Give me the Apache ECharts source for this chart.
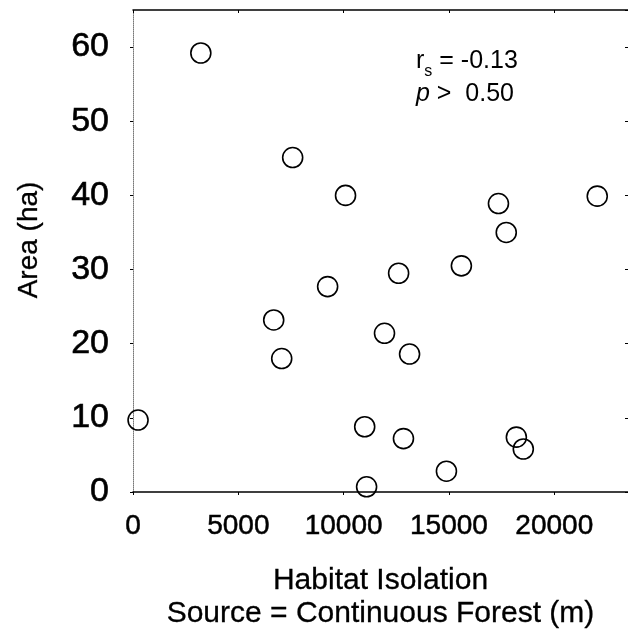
<!DOCTYPE html>
<html>
<head>
<meta charset="utf-8">
<script src="https://cdn.jsdelivr.net/npm/echarts@6/dist/echarts.min.js"></script>
<style>
html,body{margin:0;padding:0;background:#fff;}
#chart{width:628px;height:632px;}
</style>
</head>
<body>
<div id="chart"></div>
<script>
// Data
var isolation = [3220, 7580, 10090, 22040, 17350, 17720, 12610, 15590, 9240, 6680, 11940, 7060, 13130, 240, 11000, 12840, 18200, 18530, 14880, 11090];
var area = [59.2, 45.1, 40.0, 39.9, 38.9, 35.0, 29.5, 30.5, 27.7, 23.2, 21.4, 18.0, 18.6, 9.7, 8.8, 7.2, 7.4, 5.8, 2.8, 0.7];
var xTitle = 'Habitat Isolation\nSource = Continuous Forest (m)';
var yTitle = 'Area (ha)';
var statR = '-0.13';
var statP = '0.50';

var points = isolation.map(function (x, i) { return [x, area[i]]; });
var FONT = '"Liberation Sans", Arial, sans-serif';
var plain = function (v) { return String(v); };

var chart = echarts.init(document.getElementById('chart'), null, {renderer: 'canvas'});
chart.setOption({
  backgroundColor: '#fff',
  animation: false,
  textStyle: {fontFamily: FONT, color: '#000'},
  grid: {left: 133, right: 0, top: 10, bottom: 140, containLabel: false, outerBoundsMode: 'none'},
  xAxis: [{
    type: 'value', min: 0, max: 23500, interval: 5000, position: 'bottom',
    axisLine: {show: true, onZero: false, lineStyle: {color: '#000', width: 1.5}},
    axisTick: {show: true, length: 3, lineStyle: {color: '#000'}},
    splitLine: {show: false},
    axisLabel: {fontSize: 28, color: '#000', fontFamily: FONT, margin: 20, showMaxLabel: false,
      formatter: plain, textBorderColor: '#000', textBorderWidth: 0.5},
    name: xTitle, nameLocation: 'middle', nameGap: 72,
    nameTextStyle: {fontSize: 30, color: '#000', fontFamily: FONT, lineHeight: 33,
      textBorderColor: '#000', textBorderWidth: 0.3}
  }, {
    type: 'value', min: 0, max: 23500, interval: 5000, position: 'top',
    axisLine: {show: true, onZero: false, lineStyle: {color: '#000', width: 1.5}},
    axisTick: {show: true, inside: true, length: 3, lineStyle: {color: '#000'}},
    axisLabel: {show: false}, splitLine: {show: false}
  }],
  yAxis: [{
    type: 'value', min: 0, max: 65, interval: 10, position: 'left',
    axisLine: {show: true, onZero: false, lineStyle: {color: '#777', width: 1, type: 'dotted'}},
    axisTick: {show: true, length: 3, lineStyle: {color: '#000'}},
    splitLine: {show: false},
    axisLabel: {fontSize: 34, color: '#000', fontFamily: FONT, margin: 24, showMaxLabel: false,
      formatter: plain, textBorderColor: '#000', textBorderWidth: 0.6},
    name: yTitle, nameLocation: 'middle', nameGap: 90, nameRotate: 90,
    nameTextStyle: {fontSize: 28, color: '#000', fontFamily: FONT, padding: [0, 0, 0, 22],
      textBorderColor: '#000', textBorderWidth: 0.3}
  }, {
    type: 'value', min: 0, max: 65, interval: 10, position: 'right',
    axisLine: {show: false, onZero: false},
    axisTick: {show: true, inside: true, length: 3, lineStyle: {color: '#000'}},
    axisLabel: {show: false}, splitLine: {show: false}
  }],
  series: [{
    type: 'scatter',
    xAxisIndex: 0, yAxisIndex: 0,
    data: points,
    symbol: 'circle',
    symbolSize: 20,
    itemStyle: {color: 'rgba(0,0,0,0)', borderColor: '#000', borderWidth: 1.6, opacity: 1},
    emphasis: {disabled: true}
  }],
  graphic: [{
    type: 'text', left: 416, top: 49,
    style: {
      text: '{r|r}{s|s}{n| = ' + statR + '}\n{p|p}{n| >  ' + statP + '}',
      fill: '#000',
      rich: {
        r: {fontSize: 25, fontFamily: FONT, lineHeight: 33},
        s: {fontSize: 16, fontFamily: FONT, verticalAlign: 'bottom', padding: [0, 0, -2, 0], lineHeight: 33},
        n: {fontSize: 25, fontFamily: FONT, lineHeight: 33},
        p: {fontSize: 25, fontFamily: FONT, fontStyle: 'italic', lineHeight: 33}
      }
    }
  }]
});
</script>
</body>
</html>
